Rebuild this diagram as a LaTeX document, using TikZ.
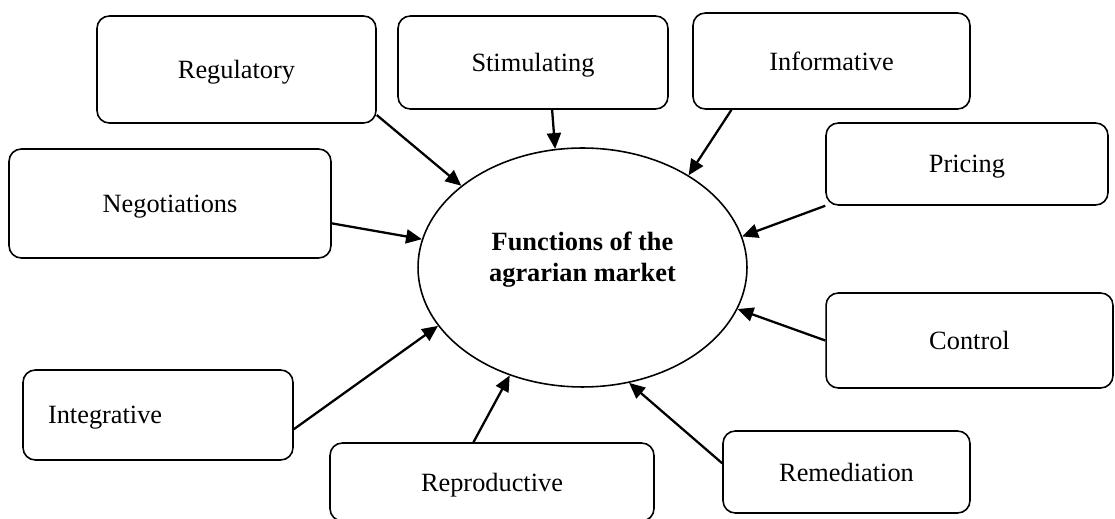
\documentclass[tikz,border=0pt]{standalone}
\usepackage{fontspec}
\setmainfont{Liberation Serif}
\usetikzlibrary{arrows.meta,shapes.geometric}

\begin{document}
\begin{tikzpicture}[x=0.02cm, y=-0.02cm, line width=1.3pt, -{Triangle[length=9pt,width=8pt]}]
		\tikzstyle{func} = [draw, rectangle, rounded corners=7pt, line width=0.9pt, align=center, text depth=0pt, font=\fontsize{15}{17.5}\selectfont]
		\tikzstyle{hub} = [draw, ellipse, line width=0.9pt, align=center, minimum width=6.58cm, minimum height=4.78cm, text depth=12pt, font=\fontsize{15}{17.6}\selectfont\bfseries]
		
		\useasboundingbox (0,0) rectangle (1115,519);
		
		\node[hub] (fn) at (582.5,267.5) {Functions of the\\agrarian market};
		\node[func, minimum width=5.58cm, minimum height=2.14cm] (reg) at (236.5,69.5) {Regulatory};
		\node[func, minimum width=5.4cm, minimum height=1.86cm] (stim) at (533,62.5) {Stimulating};
		\node[func, minimum width=5.54cm, minimum height=1.92cm] (inf) at (831.5,61) {Informative};
		\node[func, minimum width=5.64cm, minimum height=1.64cm] (pri) at (967,164) {Pricing};
		\node[func, minimum width=6.44cm, minimum height=2.18cm] (neg) at (170,203.5) {Negotiations};
		\node[func, minimum width=5.74cm, minimum height=1.9cm] (ctl) at (969.5,340.5) {Control};
		\node[func, text width=4.4cm, inner xsep=0.5cm, align=left, minimum height=1.8cm] (int) at (158,415) {Integrative};
		\node[func, minimum width=6.48cm, minimum height=1.56cm] (rep) at (492,482) {Reproductive};
		\node[func, minimum width=4.94cm, minimum height=1.64cm] (rem) at (846.5,472) {Remediation};
		
		\draw (reg.-18) -- (fn.146);
		\draw (stim.-68) -- (fn.103);
		\draw (inf.-154) -- (fn.41);
		\draw (pri.south west) -- (fn.11);
		\draw (neg.-7) -- (fn.170);
		\draw (ctl.west) -- (fn.-15);
		\draw (int.-6) -- (fn.-158);
		\draw (rep.115) -- (fn.-124);
		\draw (rem.176) -- (fn.-68);
	\end{tikzpicture}
\end{document}
